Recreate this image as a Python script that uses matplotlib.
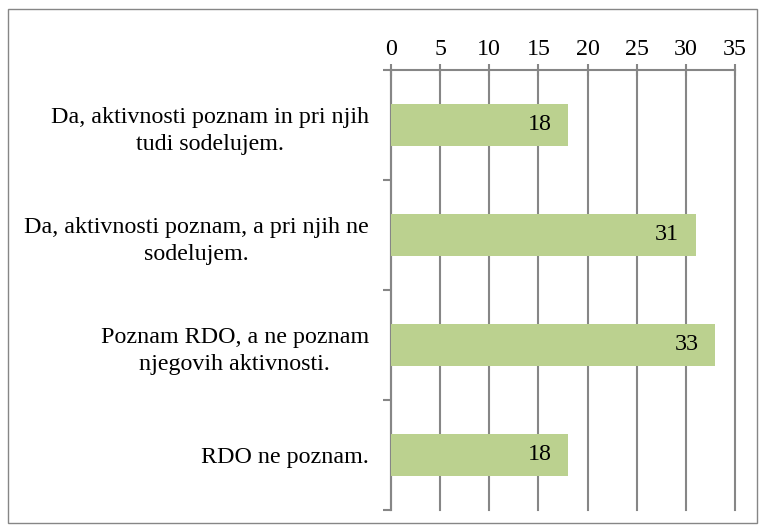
import numpy as np
from matplotlib import pyplot as plt
from matplotlib.patches import Rectangle

categories = ["Da, aktivnosti poznam in pri njih\ntudi sodelujem.",
              "Da, aktivnosti poznam, a pri njih ne\nsodelujem.",
              "Poznam RDO, a ne poznam\nnjegovih aktivnosti.",
              "RDO ne poznam."]
values = [18, 31, 33, 18]
xticks = [0, 5, 10, 15, 20, 25, 30, 35]

plt.rcParams['font.family'] = ['Liberation Serif', 'DejaVu Serif']
plt.rcParams['font.size'] = 17.3

fig = plt.figure(figsize=(7.65, 5.31), dpi=100)
ax = fig.add_axes([391/765, 1 - 510/531, (735 - 391)/765, (510 - 70)/531])

grey = '#868686'
y = np.arange(len(values))
bars = ax.barh(y, values, height=0.39, color='#bbd18f', zorder=3)
ax.set_ylim(len(values) - 0.5, -0.5)
ax.set_xlim(0, 35)

ax.xaxis.tick_top()
ax.set_xticks(xticks)
ax.tick_params(axis='x', direction='inout', length=9, width=1.5, color=grey, pad=3)
ax.grid(axis='x', color=grey, linewidth=1.5, zorder=0)
for gl in ax.get_xgridlines():
    gl.set_clip_on(False)

ax.set_yticks(y)
ax.set_yticklabels(categories, multialignment='center', linespacing=1.4)
ax.set_yticks(np.arange(len(values) + 1) - 0.5, minor=True)
ax.tick_params(axis='y', which='major', length=0, pad=16)
ax.tick_params(axis='y', which='minor', length=6, width=1.5, color=grey, direction='out')

for s in ['right', 'bottom']:
    ax.spines[s].set_visible(False)
for s in ['top', 'left']:
    ax.spines[s].set_color(grey)
    ax.spines[s].set_linewidth(1.5)

for bar, v in zip(bars, values):
    ax.annotate(str(v), (v, bar.get_y() + bar.get_height() / 2),
                xytext=(-12, 0), textcoords='offset points',
                ha='right', va='center', zorder=4)

fig.patches.append(Rectangle((8/765, 8/531), 749/765, 514/531, transform=fig.transFigure,
                             fill=False, edgecolor=grey, linewidth=1))

fig.savefig('out.png', dpi=100)
